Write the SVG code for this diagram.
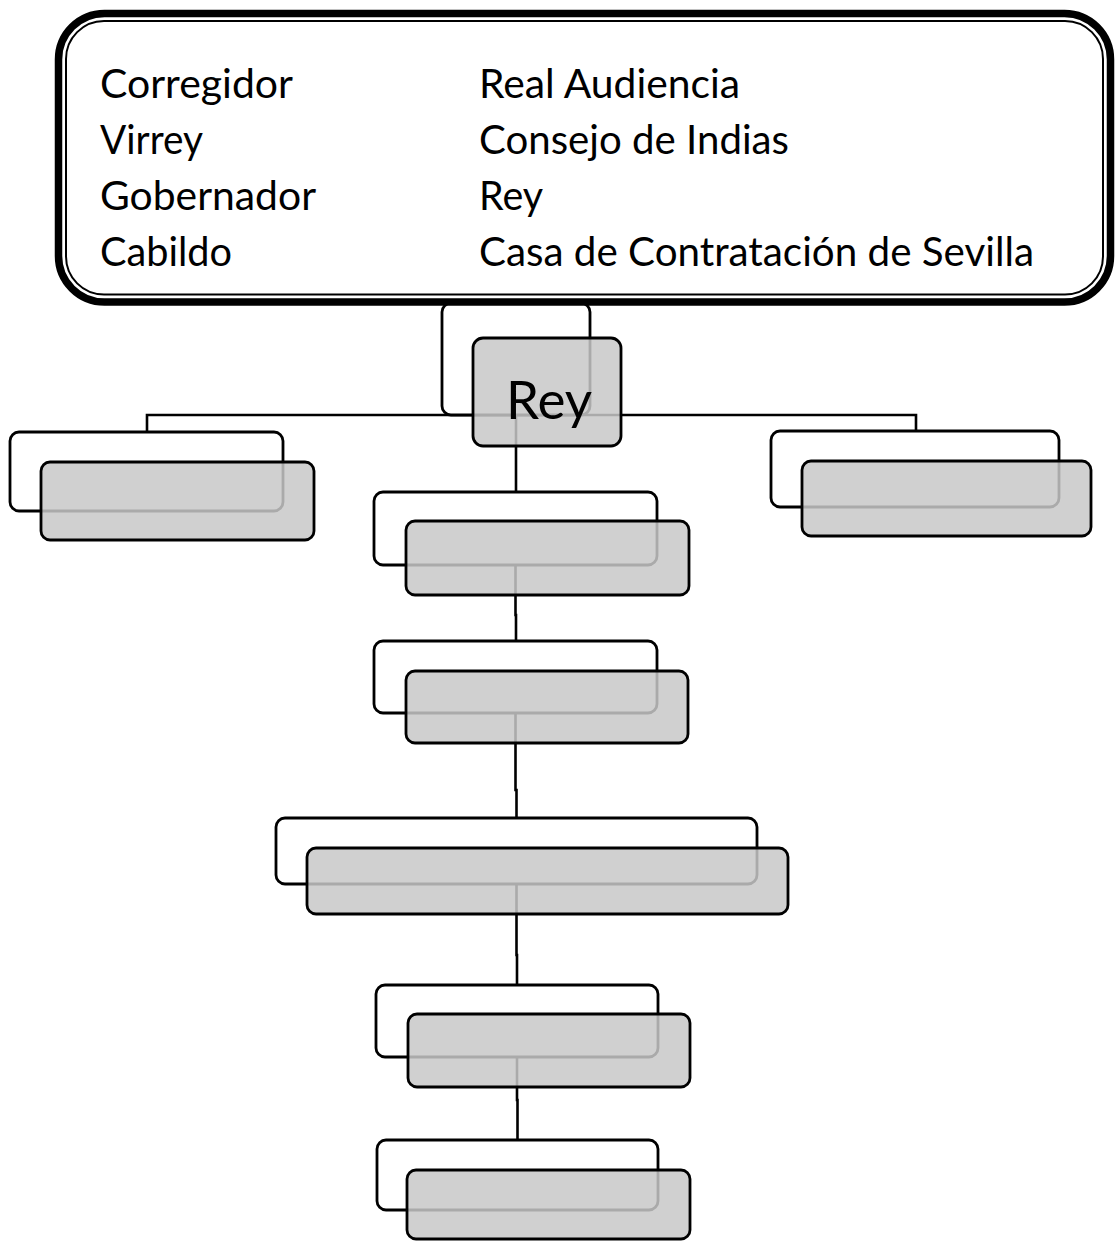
<svg xmlns="http://www.w3.org/2000/svg" width="1115" height="1241" viewBox="0 0 1115 1241">
<style>
.wb{fill:#ffffff;stroke:#000;stroke-width:2.8}
.gb{fill:#c8c8c8;fill-opacity:0.85;stroke:#000;stroke-width:2.8}
.cn{fill:none;stroke:#000;stroke-width:2.6}
.t{font-family:Lato,"Open Sans",sans-serif;font-size:41px;fill:#000}
.rt{font-family:Lato,"Open Sans",sans-serif;font-size:53px;fill:#000}
</style>
<rect width="1115" height="1241" fill="#fff"/>
<g id="connectors">
<path class="cn" d="M147,432 V415 H916 V431"/>
<path class="cn" d="M516,415 V492"/>
<path class="cn" d="M515.5,565 V615 H516 V641"/>
<path class="cn" d="M515.5,713 V790 H516.5 V818"/>
<path class="cn" d="M516.5,884 V955 H517 V985"/>
<path class="cn" d="M517,1057 V1100 H517.5 V1140"/>
</g>
<g id="node-rey">
<rect class="wb" x="442" y="303" width="148" height="112" rx="9"/>
<rect class="gb" x="473" y="338" width="148" height="108" rx="10"/>
<text class="rt" x="549" y="419" text-anchor="middle">Rey</text>
</g>
<g id="node-left">
<rect class="wb" x="10" y="432" width="273" height="79" rx="9"/>
<rect class="gb" x="41" y="462" width="273" height="78" rx="9"/>
</g>
<g id="node-right">
<rect class="wb" x="771" y="431" width="288" height="76" rx="9"/>
<rect class="gb" x="802" y="461" width="289" height="75" rx="9"/>
</g>
<g id="node-2">
<rect class="wb" x="374" y="492" width="283" height="73" rx="9"/>
<rect class="gb" x="406" y="521" width="283" height="74" rx="9"/>
</g>
<g id="node-3">
<rect class="wb" x="374" y="641" width="283" height="72" rx="9"/>
<rect class="gb" x="406" y="671" width="282" height="72" rx="9"/>
</g>
<g id="node-4">
<rect class="wb" x="276" y="818" width="481" height="66" rx="9"/>
<rect class="gb" x="307" y="848" width="481" height="66" rx="9"/>
</g>
<g id="node-5">
<rect class="wb" x="376" y="985" width="282" height="72" rx="9"/>
<rect class="gb" x="408" y="1014" width="282" height="73" rx="9"/>
</g>
<g id="node-6">
<rect class="wb" x="377" y="1140" width="281" height="70" rx="9"/>
<rect class="gb" x="407" y="1170" width="283" height="69" rx="9"/>
</g>
<g id="legend">
<rect x="58.5" y="13.5" width="1052" height="288.5" rx="46" fill="#fff" stroke="#000" stroke-width="7.5"/>
<rect x="66" y="21" width="1037" height="273.5" rx="38" fill="none" stroke="#000" stroke-width="2"/>
<text class="t" x="100" y="98" textLength="193" lengthAdjust="spacingAndGlyphs">Corregidor</text>
<text class="t" x="100" y="154" textLength="103" lengthAdjust="spacingAndGlyphs">Virrey</text>
<text class="t" x="100" y="210" textLength="216" lengthAdjust="spacingAndGlyphs">Gobernador</text>
<text class="t" x="100" y="266" textLength="132" lengthAdjust="spacingAndGlyphs">Cabildo</text>
<text class="t" x="479" y="98" textLength="261" lengthAdjust="spacingAndGlyphs">Real Audiencia</text>
<text class="t" x="479" y="154" textLength="310" lengthAdjust="spacingAndGlyphs">Consejo de Indias</text>
<text class="t" x="479" y="210" textLength="64" lengthAdjust="spacingAndGlyphs">Rey</text>
<text class="t" x="479" y="266" textLength="555" lengthAdjust="spacingAndGlyphs">Casa de Contratación de Sevilla</text>
</g>
</svg>
